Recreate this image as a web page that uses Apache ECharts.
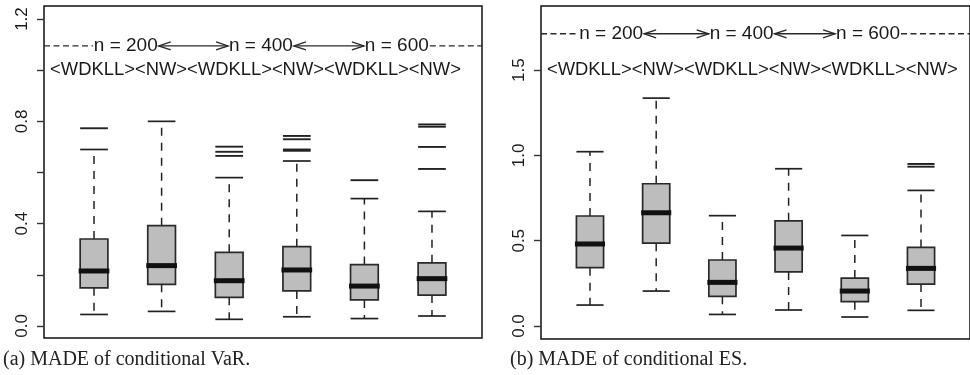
<!DOCTYPE html>
<html><head><meta charset="utf-8">
<script src="https://cdn.jsdelivr.net/npm/echarts@6/dist/echarts.min.js"></script>
<style>html,body{margin:0;padding:0;background:#fff}#chart{width:970px;height:375px}</style>
</head><body><div id="chart"></div>
<script>
// ---------------- data ----------------
const categories = ['WDKLL n=200', 'NW n=200', 'WDKLL n=400', 'NW n=400', 'WDKLL n=600', 'NW n=600'];
// [lower whisker, Q1, median, Q3, upper whisker]
const varStats = [
  [0.045, 0.149, 0.215, 0.340, 0.690],
  [0.057, 0.163, 0.236, 0.392, 0.800],
  [0.026, 0.112, 0.177, 0.288, 0.580],
  [0.036, 0.137, 0.219, 0.310, 0.645],
  [0.029, 0.102, 0.156, 0.240, 0.498],
  [0.039, 0.121, 0.185, 0.247, 0.448]
];
const varOutliers = [[0.773], [], [0.665, 0.681, 0.701], [0.685, 0.690, 0.730, 0.743], [0.570], [0.614, 0.700, 0.779, 0.788]];
const esStats = [
  [0.123, 0.342, 0.481, 0.645, 1.022],
  [0.205, 0.486, 0.664, 0.834, 1.336],
  [0.068, 0.174, 0.256, 0.387, 0.647],
  [0.094, 0.317, 0.457, 0.617, 0.922],
  [0.053, 0.143, 0.205, 0.281, 0.531],
  [0.092, 0.246, 0.338, 0.461, 0.795]
];
const esOutliers = [[], [], [], [], [], [0.934, 0.950]];
const varTicks = [0, 0.2, 0.4, 0.6, 0.8, 1.0, 1.2];
const varTickLabels = [0, 0.4, 0.8, 1.2];
const esTicks = [0, 0.5, 1.0, 1.5];
const esTickLabels = [0, 0.5, 1.0, 1.5];
const sampleLabels = ['n = 200', 'n = 400', 'n = 600'];
const methodLabel = '<WDKLL><NW><WDKLL><NW><WDKLL><NW>';
const captions = ['(a) MADE of conditional VaR.', '(b) MADE of conditional ES.'];

// ---------------- helpers ----------------
const SANS = '"Liberation Sans", Arial, Helvetica, sans-serif';
const SERIF = '"Liberation Serif", "Times New Roman", serif';
const X_MIN = 0.26, X_MAX = 6.74, BOX_W = 0.41;
const mctx = document.createElement('canvas').getContext('2d');
function textW(str, size) { mctx.font = size + 'px ' + SANS; return mctx.measureText(str).width; }

function boxData(stats) { return stats.map((s, i) => [i + 1].concat(s)); }
function outlierData(outs) {
  const d = [];
  outs.forEach((arr, i) => arr.forEach(v => d.push([i + 1, v])));
  return d;
}

function renderBox(params, api) {
  const x = api.value(0);
  const low = api.coord([x, api.value(1)]);
  const q1 = api.coord([x, api.value(2)]);
  const med = api.coord([x, api.value(3)]);
  const q3 = api.coord([x, api.value(4)]);
  const high = api.coord([x, api.value(5)]);
  const cx = low[0];
  const half = api.size([BOX_W, 0])[0] / 2;
  const wStyle = { stroke: '#222', lineWidth: 1.5, lineDash: [8, 7] };
  const cStyle = { stroke: '#222', lineWidth: 1.7 };
  return {
    type: 'group',
    children: [
      { type: 'line', shape: { x1: cx, y1: q3[1], x2: cx, y2: high[1] }, style: wStyle },
      { type: 'line', shape: { x1: cx, y1: q1[1], x2: cx, y2: low[1] }, style: wStyle },
      { type: 'line', shape: { x1: cx - half, y1: high[1], x2: cx + half, y2: high[1] }, style: cStyle },
      { type: 'line', shape: { x1: cx - half, y1: low[1], x2: cx + half, y2: low[1] }, style: cStyle },
      { type: 'rect', shape: { x: cx - half, y: q3[1], width: 2 * half, height: q1[1] - q3[1] },
        style: { fill: '#bdbdbd', stroke: '#2a2a2a', lineWidth: 1.7 } },
      { type: 'line', shape: { x1: cx - half - 1.5, y1: med[1], x2: cx + half + 1.5, y2: med[1] },
        style: { stroke: '#111', lineWidth: 5 } }
    ]
  };
}

function renderOutlier(params, api) {
  const p = api.coord([api.value(0), api.value(1)]);
  const half = api.size([BOX_W, 0])[0] / 2;
  return { type: 'line', shape: { x1: p[0] - half, y1: p[1], x2: p[0] + half, y2: p[1] },
           style: { stroke: '#222', lineWidth: 1.9 } };
}

function makeAnnot(cfg) {
  return function (params, api) {
    const FS1 = 19, FS2 = 18.4;
    const y1 = api.coord([1, cfg.row1Y])[1];
    const y2 = api.coord([1, cfg.row2Y])[1];
    const leftPx = api.coord([X_MIN, cfg.row1Y])[0];
    const rightPx = api.coord([X_MAX, cfg.row1Y])[0];
    const ln = { stroke: '#2a2a2a', lineWidth: 1.4 };
    const children = [];
    const spans = cfg.labelX.map((lx, i) => {
      const c = api.coord([lx, cfg.row1Y])[0];
      const w = textW(sampleLabels[i], FS1);
      return [c - w / 2, c + w / 2, c];
    });
    spans.forEach((s, i) => children.push({
      type: 'text',
      style: { text: sampleLabels[i], x: s[2], y: y1, align: 'center', verticalAlign: 'middle',
               fontSize: FS1, fontFamily: SANS, fill: '#1a1a1a' }
    }));
    children.push({ type: 'line', shape: { x1: leftPx, y1: y1, x2: spans[0][0] - 1, y2: y1 },
                    style: Object.assign({ lineDash: [6, 3.5] }, ln) });
    children.push({ type: 'line', shape: { x1: spans[2][1] + 1, y1: y1, x2: rightPx, y2: y1 },
                    style: Object.assign({ lineDash: [6, 3.5] }, ln) });
    const L = 12, H = 4;
    for (let i = 0; i < 2; i++) {
      const a = spans[i][1] + 1, b = spans[i + 1][0] - 1;
      children.push({ type: 'line', shape: { x1: a, y1: y1, x2: b, y2: y1 }, style: ln });
      children.push({ type: 'polyline', shape: { points: [[a + L, y1 - H], [a, y1], [a + L, y1 + H]] }, style: Object.assign({ fill: null }, ln) });
      children.push({ type: 'polyline', shape: { points: [[b - L, y1 - H], [b, y1], [b - L, y1 + H]] }, style: Object.assign({ fill: null }, ln) });
    }
    children.push({
      type: 'text',
      style: { text: methodLabel, x: api.coord([cfg.row2X, cfg.row2Y])[0], y: y2, align: 'left', verticalAlign: 'middle',
               fontSize: FS2, fontFamily: SANS, fill: '#1a1a1a' }
    });
    return { type: 'group', children: children };
  };
}

function yAxisCfg(gridIndex, min, max, ticks, labels) {
  return {
    type: 'value', gridIndex: gridIndex, min: min, max: max,
    axisLine: { show: false },
    splitLine: { show: false },
    axisTick: { show: true, inside: false, length: 7, customValues: ticks, lineStyle: { color: '#333', width: 1.4 } },
    axisLabel: { show: true, rotate: 90, margin: 13, customValues: labels, fontSize: 17, fontFamily: SANS, color: '#1a1a1a',
                 formatter: v => Number(v).toFixed(1) }
  };
}
function xAxisCfg(gridIndex) {
  return { type: 'value', gridIndex: gridIndex, min: X_MIN, max: X_MAX,
           axisLine: { show: false }, axisTick: { show: false }, axisLabel: { show: false }, splitLine: { show: false } };
}

const chart = echarts.init(document.getElementById('chart'), null, { renderer: 'canvas' });
chart.setOption({
  animation: false,
  backgroundColor: '#fff',
  grid: [
    { left: 44, top: 6, width: 438, height: 332, show: true, borderColor: '#111', borderWidth: 1.5, backgroundColor: 'transparent' },
    { left: 541, top: 6, width: 438, height: 333, show: true, borderColor: '#111', borderWidth: 1.5, backgroundColor: 'transparent' }
  ],
  xAxis: [xAxisCfg(0), xAxisCfg(1)],
  yAxis: [
    yAxisCfg(0, -0.047, 1.251, varTicks, varTickLabels),
    yAxisCfg(1, -0.076, 1.876, esTicks, esTickLabels)
  ],
  graphic: [
    { type: 'text', style: { text: captions[0], x: 3, y: 359.5, verticalAlign: 'middle', fontSize: 20, fontFamily: SERIF, fill: '#222' } },
    { type: 'text', style: { text: captions[1], x: 510, y: 359.5, verticalAlign: 'middle', fontSize: 20, fontFamily: SERIF, fill: '#222' } }
  ],
  series: [
    { name: 'VaR boxes', type: 'custom', xAxisIndex: 0, yAxisIndex: 0, data: boxData(varStats), renderItem: renderBox },
    { name: 'VaR outliers', type: 'custom', xAxisIndex: 0, yAxisIndex: 0, data: outlierData(varOutliers), renderItem: renderOutlier },
    { name: 'ES boxes', type: 'custom', xAxisIndex: 1, yAxisIndex: 1, data: boxData(esStats), renderItem: renderBox },
    { name: 'ES outliers', type: 'custom', xAxisIndex: 1, yAxisIndex: 1, data: outlierData(esOutliers), renderItem: renderOutlier },
    { name: 'VaR labels', type: 'custom', xAxisIndex: 0, yAxisIndex: 0, data: [[1, 1]], silent: true,
      renderItem: makeAnnot({ row1Y: 1.095, row2Y: 1.0, labelX: [1.47, 3.47, 5.48], row2X: 0.35 }) },
    { name: 'ES labels', type: 'custom', xAxisIndex: 1, yAxisIndex: 1, data: [[1, 1]], silent: true,
      renderItem: makeAnnot({ row1Y: 1.713, row2Y: 1.5, labelX: [1.32, 3.29, 5.20], row2X: 0.35 }) }
  ]
});
</script>
</body></html>
